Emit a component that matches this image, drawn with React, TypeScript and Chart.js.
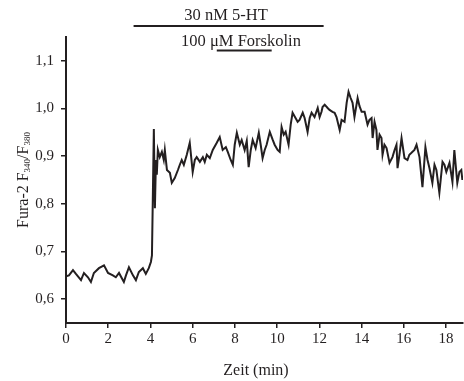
import { useEffect, useRef } from "react";
import { Chart, registerables } from "chart.js";

Chart.register(...registerables);

// Time (min) and Fura-2 ratio
const timeMin = [
  0.0, 0.14, 0.33, 0.47, 0.71, 0.85, 1.04, 1.18, 1.32, 1.56, 1.8, 1.99, 2.22, 2.36, 2.51, 2.74, 2.84, 2.98,
  3.17, 3.31, 3.45, 3.64, 3.78, 3.92, 4.02, 4.07, 4.11, 4.16, 4.21, 4.26, 4.3, 4.35, 4.44, 4.54, 4.63, 4.68,
  4.78, 4.92, 5.01, 5.15, 5.3, 5.39, 5.48, 5.58, 5.72, 5.86, 6.0, 6.1, 6.19, 6.34, 6.48, 6.57, 6.67, 6.81,
  6.95, 7.14, 7.28, 7.42, 7.57, 7.66, 7.8, 7.9, 7.99, 8.09, 8.23, 8.32, 8.46, 8.56, 8.65, 8.75, 8.84, 8.98,
  9.13, 9.22, 9.31, 9.41, 9.5, 9.65, 9.79, 9.88, 10.02, 10.12, 10.21, 10.31, 10.4, 10.54, 10.64, 10.73,
  10.87, 10.97, 11.06, 11.21, 11.3, 11.44, 11.54, 11.63, 11.77, 11.92, 12.01, 12.1, 12.15, 12.25, 12.39,
  12.48, 12.62, 12.72, 12.81, 12.96, 13.05, 13.19, 13.29, 13.38, 13.48, 13.57, 13.66, 13.81, 13.9, 14.0,
  14.14, 14.28, 14.37, 14.47, 14.52, 14.61, 14.7, 14.75, 14.85, 14.94, 14.99, 15.08, 15.18, 15.32, 15.46,
  15.56, 15.65, 15.7, 15.79, 15.89, 16.03, 16.17, 16.26, 16.36, 16.5, 16.6, 16.74, 16.88, 17.02, 17.12,
  17.21, 17.35, 17.45, 17.54, 17.68, 17.83, 17.92, 18.01, 18.16, 18.3, 18.39, 18.53, 18.63, 18.72, 18.77,
];

const ratio = [
  0.648, 0.65, 0.661, 0.653, 0.64, 0.655, 0.646, 0.636, 0.655, 0.665, 0.671, 0.655, 0.65, 0.646, 0.655, 0.636,
  0.65, 0.667, 0.65, 0.64, 0.657, 0.665, 0.653, 0.665, 0.678, 0.692, 0.808, 0.957, 0.791, 0.892, 0.861, 0.913,
  0.898, 0.909, 0.892, 0.913, 0.871, 0.865, 0.844, 0.854, 0.871, 0.882, 0.892, 0.882, 0.903, 0.928, 0.867,
  0.892, 0.898, 0.888, 0.898, 0.888, 0.903, 0.896, 0.913, 0.928, 0.94, 0.913, 0.919, 0.909, 0.892, 0.882,
  0.924, 0.949, 0.924, 0.934, 0.913, 0.932, 0.877, 0.913, 0.934, 0.917, 0.949, 0.924, 0.896, 0.913, 0.924,
  0.951, 0.934, 0.924, 0.913, 0.909, 0.961, 0.945, 0.951, 0.924, 0.966, 0.991, 0.98, 0.972, 0.976, 0.991,
  0.98, 0.951, 0.98, 0.991, 0.982, 1.001, 0.982, 0.993, 1.003, 1.008, 1.001, 0.997, 0.993, 0.991, 0.982,
  0.955, 0.976, 0.972, 1.012, 1.035, 1.022, 1.012, 0.982, 1.022, 1.005, 0.993, 0.993, 0.966, 0.976, 0.98,
  0.938, 0.972, 0.955, 0.913, 0.945, 0.938, 0.903, 0.924, 0.917, 0.886, 0.898, 0.913, 0.924, 0.875, 0.903,
  0.938, 0.896, 0.892, 0.903, 0.907, 0.913, 0.924, 0.898, 0.835, 0.919, 0.892, 0.875, 0.844, 0.882, 0.871,
  0.823, 0.888, 0.882, 0.867, 0.886, 0.846, 0.913, 0.844, 0.867, 0.871, 0.85,
];

const xTicks = [0, 2, 4, 6, 8, 10, 12, 14, 16, 18];
const yTicks = [0.6, 0.7, 0.8, 0.9, 1.0, 1.1];

// Application bars (min)
const treatmentLabels = ["30 nM 5-HT", "100 \u03BCM Forskolin"];
const treatmentStart = [3.2, 7.14];
const treatmentEnd = [12.2, 9.74];

const FONT = '"Liberation Serif", "Times New Roman", serif';
const INK = "#231f20";

const annotationPlugin = {
  id: "annotations",
  afterDraw(chart: any) {
    const ctx = chart.ctx as CanvasRenderingContext2D;
    const xs = chart.scales.x;
    const area = chart.chartArea;
    ctx.save();
    ctx.fillStyle = INK;
    ctx.strokeStyle = INK;
    // treatment bars + labels
    const barY = [26, 50.5];
    const textY = [20, 46];
    const textCx = [226, 241];
    for (let i = 0; i < treatmentLabels.length; i++) {
      const x1 = xs.getPixelForValue(treatmentStart[i]);
      const x2 = xs.getPixelForValue(treatmentEnd[i]);
      ctx.lineWidth = 2;
      ctx.beginPath();
      ctx.moveTo(x1, barY[i]);
      ctx.lineTo(x2, barY[i]);
      ctx.stroke();
      ctx.font = `16.5px ${FONT}`;
      ctx.textAlign = "center";
      ctx.textBaseline = "alphabetic";
      ctx.fillText(treatmentLabels[i], textCx[i], textY[i]);
    }
    // x title
    ctx.font = `16px ${FONT}`;
    ctx.textAlign = "center";
    ctx.fillText("Zeit (min)", 256, 375);
    // y title with subscripts
    ctx.translate(28, (area.top + area.bottom) / 2);
    ctx.rotate(-Math.PI / 2);
    const parts: [string, boolean][] = [
      ["Fura-2 F", false],
      ["340", true],
      ["/F", false],
      ["380", true],
    ];
    const big = `16px ${FONT}`;
    const small = `9px ${FONT}`;
    let total = 0;
    for (const [t, s] of parts) {
      ctx.font = s ? small : big;
      total += ctx.measureText(t).width;
    }
    let x = -total / 2;
    ctx.textAlign = "left";
    for (const [t, s] of parts) {
      ctx.font = s ? small : big;
      ctx.fillText(t, x, s ? 2 : 0);
      x += ctx.measureText(t).width;
    }
    ctx.restore();
  },
};

export default function App() {
  const ref = useRef<HTMLCanvasElement | null>(null);
  useEffect(() => {
    if (!ref.current) return;
    const data = timeMin.map((t, i) => ({ x: t, y: ratio[i] }));
    const chart = new Chart(ref.current, {
      type: "line",
      data: {
        datasets: [
          {
            data,
            borderColor: INK,
            borderWidth: 2,
            pointRadius: 0,
            tension: 0,
            fill: false,
          },
        ],
      },
      options: {
        animation: false,
        responsive: false,
        events: [],
        layout: { padding: { left: 0, right: 1, top: 37, bottom: 0 } },
        plugins: { legend: { display: false }, tooltip: { enabled: false }, title: { display: false } },
        scales: {
          x: {
            type: "linear",
            min: 0,
            max: 18.8,
            afterFit: (s: any) => {
              s.height = 58;
            },
            afterBuildTicks: (s: any) => {
              s.ticks = xTicks.map((v) => ({ value: v }));
            },
            grid: { display: true, drawOnChartArea: false, drawTicks: true, tickLength: 5, color: INK, lineWidth: 1.5 },
            border: { display: true, color: INK, width: 2 },
            ticks: {
              color: INK,
              font: { family: FONT, size: 15 },
              padding: 2,
              maxRotation: 0,
              autoSkip: false,
              callback: (v: any) => String(v),
            },
          },
          y: {
            type: "linear",
            min: 0.55,
            max: 1.15,
            afterFit: (s: any) => {
              s.width = 66;
            },
            afterBuildTicks: (s: any) => {
              s.ticks = yTicks.map((v) => ({ value: v }));
            },
            grid: { display: true, drawOnChartArea: false, drawTicks: true, tickLength: 5, color: INK, lineWidth: 1.5 },
            border: { display: true, color: INK, width: 2 },
            ticks: {
              color: INK,
              font: { family: FONT, size: 15 },
              padding: 7,
              autoSkip: false,
              callback: (v: any) => Number(v).toFixed(1).replace(".", ","),
            },
          },
        },
      },
      plugins: [annotationPlugin],
    });
    return () => chart.destroy();
  }, []);
  return (
    <div style={{ position: "fixed", left: 0, top: 0, width: 464, height: 381, background: "#fff" }}>
      <canvas ref={ref} width={464} height={381} style={{ display: "block" }} />
    </div>
  );
}
